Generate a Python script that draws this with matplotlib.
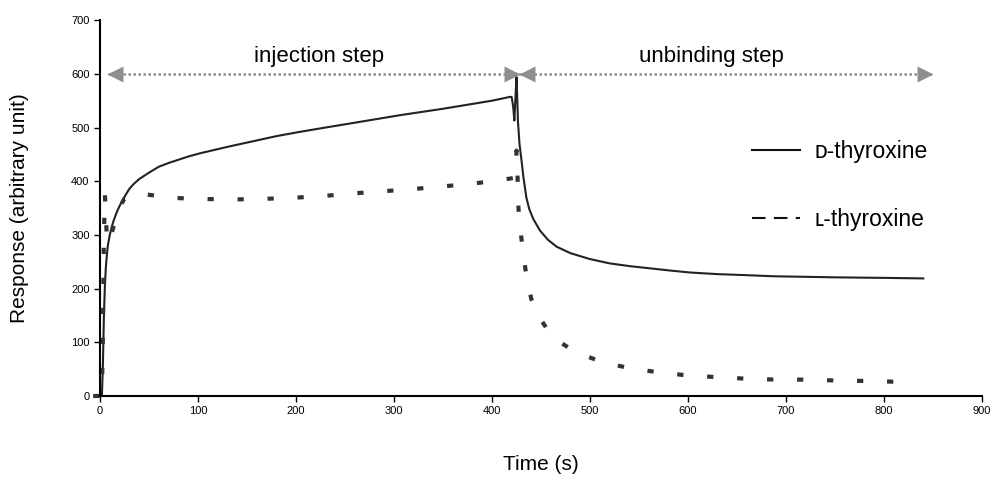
import matplotlib
matplotlib.use('Agg')
import matplotlib.pyplot as plt
from matplotlib.lines import Line2D
from matplotlib.transforms import offset_copy

plt.rcParams['font.family'] = ['Liberation Sans', 'DejaVu Sans']

# D-thyroxine (solid)
t_d = [1, 2, 3, 4, 5, 6, 7, 8, 10, 12, 14, 16, 18, 20, 23, 26, 30, 35, 40, 45, 50,
       60, 70, 80, 90, 102, 130, 160, 180, 204, 230, 260, 306, 350, 380, 400, 418,
       420, 421.5, 422.8, 424, 425, 426.5, 428, 430, 432, 435, 438, 442, 449, 457,
       466, 480, 500, 520, 540, 560, 580, 602, 630, 660, 687, 720, 750, 800, 840]
v_d = [0, 2, 60, 150, 205, 240, 262, 280, 300, 315, 327, 337, 346, 354, 364, 374,
       386, 396, 404, 410, 416, 427, 434, 440, 446, 452, 464, 476, 484, 492, 500,
       509, 523, 535, 544, 550, 557, 557, 540, 513, 560, 594, 510, 470, 440, 408,
       370, 348, 330, 308, 291, 278, 266, 255, 247, 242, 238, 234, 230, 227, 225,
       223, 222, 221, 220, 219]

# L-thyroxine (dashed)
t_l = [-7, 1, 2, 3, 4, 5, 6, 7, 8, 10, 13, 18, 25, 41, 73, 104, 134, 165, 195, 225,
       256, 286, 317, 347, 378, 408, 422, 424, 425, 426, 427, 430, 434, 440, 447,
       455, 465, 480, 495, 510, 525, 540, 570, 601, 631, 661, 692, 723, 753, 783, 822]
v_l = [0, 0, 5, 120, 300, 375, 340, 290, 285, 290, 310, 345, 368, 377, 369, 367,
       366, 367, 369, 372, 377, 381, 385, 390, 395, 402, 406, 412, 457, 410, 349,
       293, 237, 181, 150, 128, 105, 88, 75, 65, 58, 52, 44, 38, 35, 32, 30.5, 30.5,
       28.7, 28, 26]

x_ticks = [0, 100, 200, 300, 400, 500, 600, 700, 800, 900]
y_ticks = [0, 100, 200, 300, 400, 500, 600, 700]

steps = ['injection step', 'unbinding step']
step_text_x = [224, 624]
arrow_tips = [(8, 428), (428, 850)]
arrow_y = 600

fig = plt.figure(figsize=(9.9, 4.8), dpi=100)
ax = fig.add_axes([0.101, 0.175, 0.891, 0.783])

ax.plot(t_d, v_d, color='#222222', lw=1.5, clip_on=False)
ax.plot(t_l, v_l, color='#333333', lw=3, dashes=(1.5, 5.7), clip_on=False)

# step arrows
grey = '#8e8e8e'
ms = 11
for (a, b), label, tx in zip(arrow_tips, steps, step_text_x):
    left = offset_copy(ax.transData, fig=fig, x=ms / 2, units='points')
    right = offset_copy(ax.transData, fig=fig, x=-ms / 2, units='points')
    ax.plot([a, b], [arrow_y, arrow_y], color=grey, lw=1.8,
            linestyle=(0, (1, 1)), solid_capstyle='butt')
    ax.plot([a], [arrow_y], marker='<', ms=ms, color=grey, mec='none',
            transform=left, clip_on=False)
    ax.plot([b], [arrow_y], marker='>', ms=ms, color=grey, mec='none',
            transform=right, clip_on=False)
    ax.text(tx, 632, label, ha='center', va='center', fontsize=16)

handles = [Line2D([], [], color='#111111', lw=1.5),
           Line2D([], [], color='#111111', lw=1.5, dashes=(6.5, 4))]
ax.legend(handles, ['ᴅ-thyroxine', 'ʟ-thyroxine'], loc='upper left',
          bbox_to_anchor=(0.739, 0.68), frameon=False, fontsize=16.5,
          handlelength=2.09, handletextpad=0.65, labelspacing=1.95,
          borderpad=0, borderaxespad=0)

ax.set_xlim(0, 900)
ax.set_ylim(0, 700)
ax.set_xticks(x_ticks)
ax.set_yticks(y_ticks)
ax.tick_params(labelsize=8, length=4, width=1, direction='out')
for s in ['top', 'right']:
    ax.spines[s].set_visible(False)
for s in ['left', 'bottom']:
    ax.spines[s].set_linewidth(1.5)

ax.set_xlabel('Time (s)', fontsize=15)
ax.set_ylabel('Response (arbitrary unit)', fontsize=15)
ax.xaxis.set_label_coords(0.5, -0.158)
ax.yaxis.set_label_coords(-0.08, 0.5)

fig.savefig('out.png', dpi=100)
